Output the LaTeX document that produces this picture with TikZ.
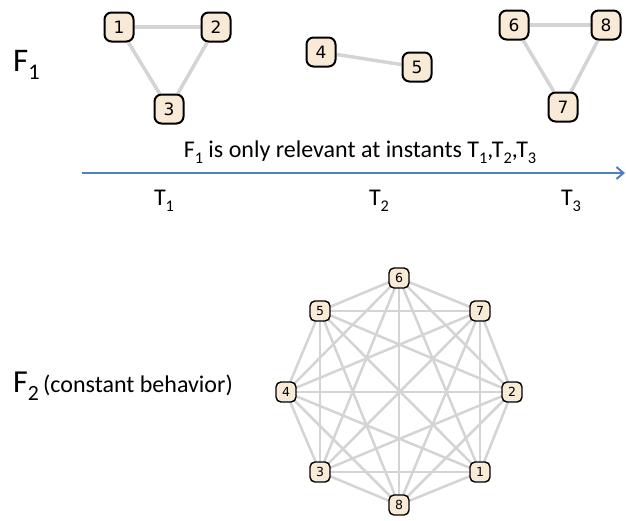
\documentclass[tikz,border=0pt]{standalone}
\usepackage{fontspec}
\usepackage{graphicx}
\setmainfont{Carlito}
\newfontfamily\numfont{DejaVu Sans}
\usetikzlibrary{arrows.meta,backgrounds}
\definecolor{nodefill}{RGB}{249,234,216}
\definecolor{edgegray}{RGB}{212,212,212}
\definecolor{axisblue}{RGB}{79,129,189}
\newcommand{\lowsub}[1]{\raisebox{-0.26em}{\scalebox{0.68}{#1}}}
\tikzset{
  bignode/.style={draw=black, line width=2pt, fill=nodefill, rounded corners=7pt,
    minimum width=29pt, minimum height=29pt, inner sep=0pt,
    font=\numfont\fontsize{17}{17}\selectfont},
  smallnode/.style={draw=black, line width=1.4pt, fill=nodefill, rounded corners=5pt,
    minimum width=20pt, minimum height=20pt, inner sep=0pt,
    font=\numfont\fontsize{12.5}{12.5}\selectfont},
  bigedge/.style={draw=edgegray, line width=3.5pt},
  smalledge/.style={draw=edgegray, line width=2.5pt},
  lbl/.style={inner sep=0pt, font=\fontsize{24}{28}\selectfont},
  biglbl/.style={inner sep=0pt, font=\fontsize{33}{38}\selectfont},
}
\begin{document}
\begin{tikzpicture}[x=1pt,y=-1pt]
\useasboundingbox (0,0) rectangle (626,520);
% top graphs
\node[bignode] (t1) at (119,27) {1};
\node[bignode] (t2) at (216,27) {2};
\node[bignode] (t3) at (169,109) {3};
\node[bignode] (t4) at (321,52) {4};
\node[bignode] (t5) at (417,67) {5};
\node[bignode] (t6) at (514,25) {6};
\node[bignode] (t8) at (606,25) {8};
\node[bignode] (t7) at (563,107) {7};
\begin{scope}[on background layer]
\draw[bigedge] (t1) -- (t2);
\draw[bigedge] (t1) -- (t3);
\draw[bigedge] (t2) -- (t3);
\draw[bigedge] (t4) -- (t5);
\draw[bigedge] (t6) -- (t8);
\draw[bigedge] (t6) -- (t7);
\draw[bigedge] (t8) -- (t7);
\end{scope}
% labels
\node[biglbl, anchor=base west] (f1) at (13,71) {F\lowsub{1}};
\node[lbl, anchor=base] (rel) at (360,157) {F\lowsub{1} is only relevant at instants T\lowsub{1},T\lowsub{2},T\lowsub{3}};
\coordinate (axs) at (82,173);
\coordinate (axe) at (625,173);
\draw[axisblue, line width=2.5pt, -{Straight Barb[length=7pt,width=12pt,line width=2pt]}] (axs) -- (axe);
\node[lbl, anchor=base] (T1) at (164,205) {T\lowsub{1}};
\node[lbl, anchor=base] (T2) at (379,205) {T\lowsub{2}};
\node[lbl, anchor=base] (T3) at (571,205) {T\lowsub{3}};
\node[inner sep=0pt, anchor=base west, font=\fontsize{32}{36}\selectfont] (f2) at (13,392) {F\lowsub{2}};
\node[lbl, anchor=base west] (desc) at (43,392) {(constant behavior)};
% complete graph
\node[smallnode] (b6) at (399,278) {6};
\node[smallnode] (b7) at (480,311) {7};
\node[smallnode] (b2) at (512,392) {2};
\node[smallnode] (b1) at (480,472) {1};
\node[smallnode] (b8) at (399,505) {8};
\node[smallnode] (b3) at (320,472) {3};
\node[smallnode] (b4) at (286,392) {4};
\node[smallnode] (b5) at (320,311) {5};
\begin{scope}[on background layer]
\foreach \a/\rest in {6/{7,2,1,8,3,4,5},7/{2,1,8,3,4,5},2/{1,8,3,4,5},1/{8,3,4,5},8/{3,4,5},3/{4,5},4/{5}}{
  \foreach \b in \rest { \draw[smalledge] (b\a.center) -- (b\b.center); }
}
\end{scope}
\end{tikzpicture}
\end{document}
